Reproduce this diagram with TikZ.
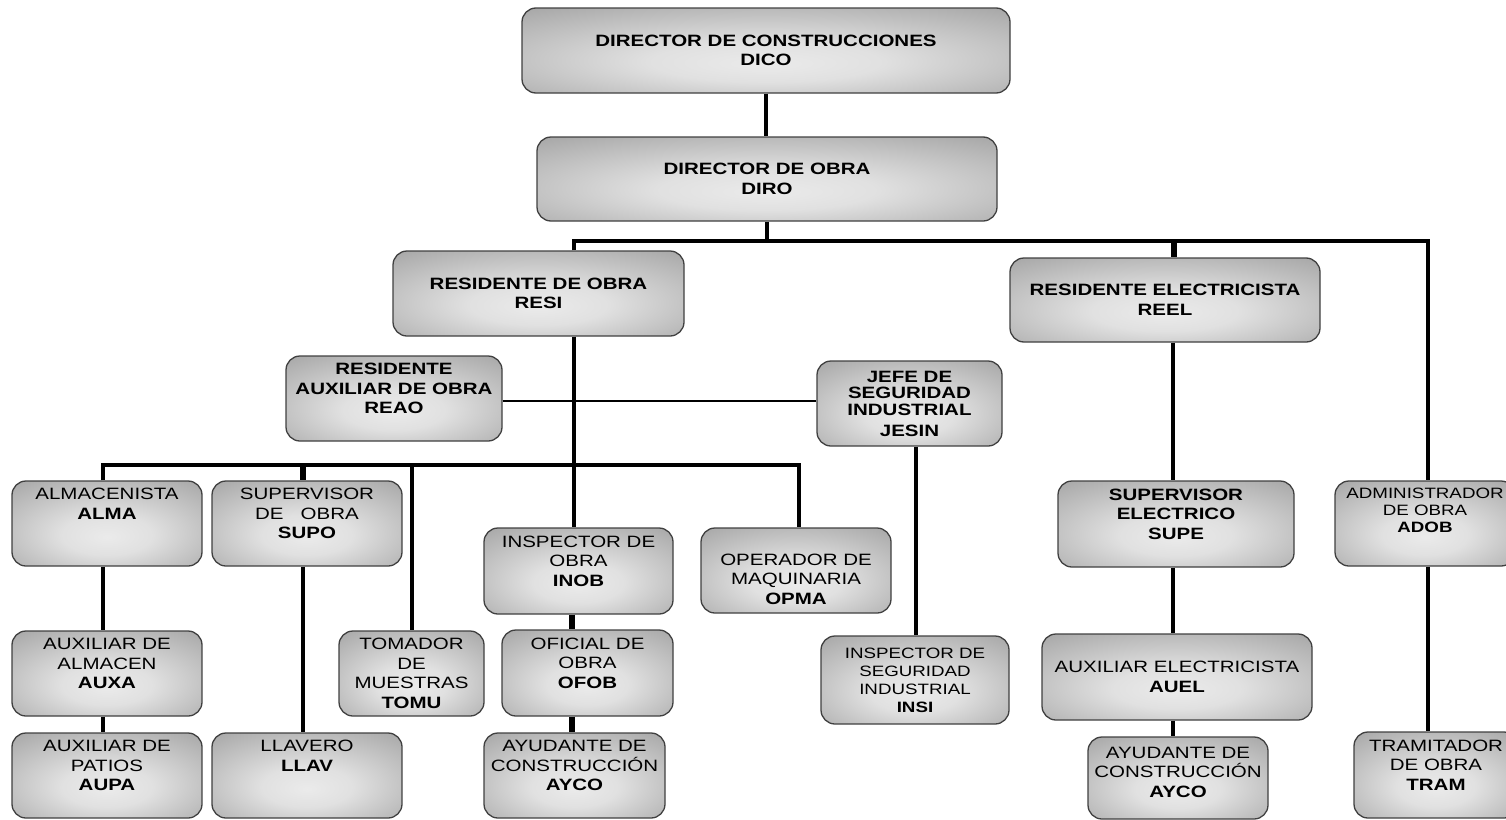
\documentclass[tikz,border=0pt]{standalone}
\usepackage{fontspec}
\setmainfont[FakeStretch=1.25]{Liberation Sans}
\pgfdeclareradialshading{boxshade}{\pgfpoint{0bp}{-8bp}}{color(0bp)=(black!8); color(12bp)=(black!12); color(50bp)=(black!45); color(72bp)=(black!48)}
\newcommand\orgfont{\fontsize{16.4}{19.5}\selectfont}
\newcommand\smallorgfont{\fontsize{15}{16.7}\selectfont}
\begin{document}
\begin{tikzpicture}[x=1pt,y=-1pt,
  orgbox/.style={draw=black!75, line width=1.3pt, rounded corners=14pt, shading=boxshade, align=center, inner sep=0pt, font=\orgfont},
  link/.style={line width=3.2pt, black},
  thinlink/.style={line width=2.2pt, black},
  thicklink/.style={line width=5.5pt, black}]
\useasboundingbox (0,0) rectangle (1506,819);
\clip (0,0) rectangle (1506,819);

% boxes
\node[orgbox, minimum width=488pt, minimum height=85pt] (dico) at (766,50.5) {\textbf{DIRECTOR DE CONSTRUCCIONES}\\\textbf{DICO}};
\node[orgbox, minimum width=460pt, minimum height=84pt] (diro) at (767,179) {\textbf{DIRECTOR DE OBRA}\\\textbf{DIRO}};
\node[orgbox, minimum width=291pt, minimum height=85pt] (resi) at (538.5,293.5) {\textbf{RESIDENTE DE OBRA}\\\textbf{RESI}};
\node[orgbox, minimum width=310pt, minimum height=84pt] (reel) at (1165,300) {\textbf{RESIDENTE ELECTRICISTA}\\\textbf{REEL}};
\node[orgbox, minimum width=216pt, minimum height=85pt] (reao) at (394,398.5) {\textbf{RESIDENTE}\\\textbf{AUXILIAR DE OBRA}\\\textbf{REAO}\\\mbox{}};
\node[orgbox, minimum width=185pt, minimum height=85pt, font=\fontsize{16.4}{16.7}\selectfont] (jesin) at (909.5,403.5) {\textbf{JEFE DE}\\\textbf{SEGURIDAD}\\\textbf{INDUSTRIAL}\\[4pt]\textbf{JESIN}};

\node[orgbox, minimum width=190pt, minimum height=85pt] (alma) at (107,523.5) {ALMACENISTA\\\textbf{ALMA}\\\mbox{}\\\mbox{}};
\node[orgbox, minimum width=190pt, minimum height=85pt] (supo) at (307,523.5) {SUPERVISOR\\DE\ \ \ OBRA\\\textbf{SUPO}\\\mbox{}};
\node[orgbox, minimum width=190pt, minimum height=85pt] (auxa) at (107,673.5) {AUXILIAR DE\\ALMACEN\\\textbf{AUXA}\\\mbox{}};
\node[orgbox, minimum width=190pt, minimum height=85pt] (aupa) at (107,775.5) {AUXILIAR DE\\PATIOS\\\textbf{AUPA}\\\mbox{}};
\node[orgbox, minimum width=190pt, minimum height=85pt] (llav) at (307,775.5) {LLAVERO\\\textbf{LLAV}\\\mbox{}\\\mbox{}};
\node[orgbox, minimum width=145pt, minimum height=85pt] (tomu) at (411.5,673.5) {TOMADOR\\DE\\MUESTRAS\\\textbf{TOMU}};
\node[orgbox, minimum width=189pt, minimum height=86pt] (inob) at (578.5,571) {INSPECTOR DE\\OBRA\\\textbf{INOB}\\\mbox{}};
\node[orgbox, minimum width=171pt, minimum height=86pt] (ofob) at (587.5,673) {OFICIAL DE\\OBRA\\\textbf{OFOB}\\\mbox{}};
\node[orgbox, minimum width=181pt, minimum height=85pt] (ayco1) at (574.5,775.5) {AYUDANTE DE\\CONSTRUCCIÓN\\\textbf{AYCO}\\\mbox{}};
\node[orgbox, minimum width=190pt, minimum height=85pt] (opma) at (796,570.5) {\mbox{}\\[9.2pt]OPERADOR DE\\MAQUINARIA\\\textbf{OPMA}};
\node[orgbox, minimum width=188pt, minimum height=88pt, font=\fontsize{15}{18}\selectfont] (insi) at (915,680) {INSPECTOR DE\\SEGURIDAD\\INDUSTRIAL\\\textbf{INSI}};

\node[orgbox, minimum width=236pt, minimum height=86pt] (supe) at (1176,524) {\textbf{SUPERVISOR}\\\textbf{ELECTRICO}\\\textbf{SUPE}\\\mbox{}};
\node[orgbox, minimum width=270pt, minimum height=86pt] (auel) at (1177,677) {AUXILIAR ELECTRICISTA\\\textbf{AUEL}};
\node[orgbox, minimum width=180pt, minimum height=82pt] (ayco2) at (1178,778) {AYUDANTE DE\\CONSTRUCCIÓN\\\textbf{AYCO}\\[-7.5pt]\mbox{}};
\node[orgbox, minimum width=180pt, minimum height=85pt, font=\smallorgfont] (adob) at (1425,523.5) {ADMINISTRADOR\\DE OBRA\\\textbf{ADOB}\\[9.5pt]\mbox{}};
\node[orgbox, minimum width=164pt, minimum height=86pt] (tram) at (1436,775) {TRAMITADOR\\DE OBRA\\\textbf{TRAM}\\\mbox{}};

% connectors
\coordinate (b1l) at (574,241);
\coordinate (b1m) at (1174,241);
\coordinate (b1r) at (1428,241);
\draw[link] (dico.south) -- (dico.south |- diro.north);
\draw[link] (diro.south) -- (diro.south |- b1l);
\draw[link] (b1l |- resi.north) -- (b1l) -- (b1r) -- (b1r |- adob.north);
\draw[thicklink] (b1m) -- (b1m |- reel.north);
\draw[link] (b1l |- resi.south) -- (b1l |- inob.north);

\coordinate (h2) at (0,401);
\draw[thinlink] (reao.east |- h2) -- (jesin.west |- h2);

\coordinate (b2a) at (103,465);
\coordinate (b2b) at (303,465);
\coordinate (b2c) at (412,465);
\coordinate (b2e) at (799,465);
\draw[link] (b2a |- alma.north) -- (b2a) -- (b2e) -- (b2e |- opma.north);
\draw[thicklink] (b2b) -- (b2b |- supo.north);
\draw[link] (b2c) -- (b2c |- tomu.north);
\draw[link] (b2a |- alma.south) -- (b2a |- auxa.north);
\draw[link] (b2a |- auxa.south) -- (b2a |- aupa.north);
\draw[link] (b2b |- supo.south) -- (b2b |- llav.north);

\coordinate (v1) at (572,0);
\draw[thicklink] (v1 |- inob.south) -- (v1 |- ofob.north);
\draw[thicklink] (v1 |- ofob.south) -- (v1 |- ayco1.north);
\coordinate (v2) at (916,0);
\draw[link] (v2 |- jesin.south) -- (v2 |- insi.north);
\coordinate (v3) at (1173,0);
\draw[link] (v3 |- reel.south) -- (v3 |- supe.north);
\draw[link] (v3 |- supe.south) -- (v3 |- auel.north);
\draw[link] (v3 |- auel.south) -- (v3 |- ayco2.north);
\draw[link] (b1r |- adob.south) -- (b1r |- tram.north);
\end{tikzpicture}
\end{document}
